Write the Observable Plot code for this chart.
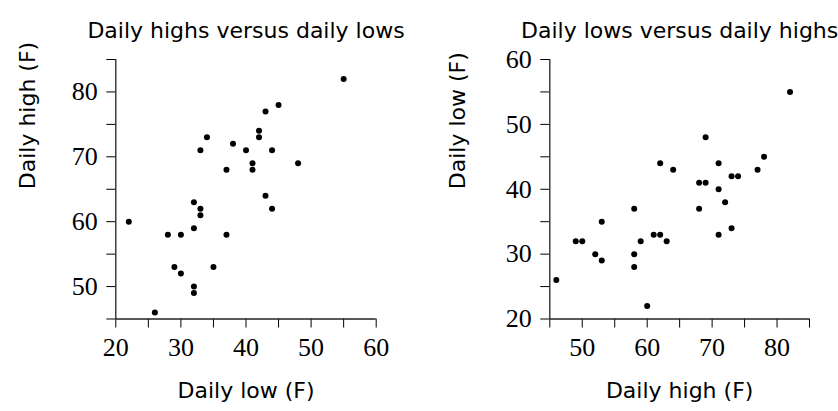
<!DOCTYPE html>
<html>
<head>
<meta charset="utf-8">
<script src="https://cdn.jsdelivr.net/npm/d3@7"></script>
<script src="https://cdn.jsdelivr.net/npm/@observablehq/plot@0.6"></script>
<style>
  html, body { margin: 0; padding: 0; background: #fff; }
  #wrap { display: flex; width: 838px; height: 411px; }
  svg { overflow: visible; }
</style>
</head>
<body>
<div id="wrap"></div>
<script>
// Daily temperatures (F)
const lows  = [55,45,43,42,42,34,33,38,40,44,48,41,41,37,43,44,32,33,33,22,32,28,30,37,29,35,30,32,32,26];
const highs = [82,78,77,74,73,73,71,72,71,71,69,69,68,68,64,62,63,62,61,60,59,58,58,58,53,53,52,50,49,46];

const lowTicks  = [20,25,30,35,40,45,50,55,60];
const highTicks = [45,50,55,60,65,70,75,80,85];
const lowTicksY = [20,25,30,35,40,45,50,55,60];

const titles = ["Daily highs versus daily lows", "Daily lows versus daily highs"];
const xLabels = ["Daily low (F)", "Daily high (F)"];
const yLabels = ["Daily high (F)", "Daily low (F)"];

const data = lows.map((l, i) => ({low: l, high: highs[i]}));

const sans = "DejaVu Sans";
const serif = "Liberation Serif";
const fmt = d => (d % 10 === 0 ? String(d) : "");

function panel({xKey, yKey, xTicks, yTicks, title, xLabel, yLabel, ml, mr, ylabX}) {
  const mt = 59, mb = 92.5, W = 419, H = 411;
  return Plot.plot({
    width: W, height: H,
    marginLeft: ml, marginRight: mr, marginTop: mt, marginBottom: mb,
    style: {fontFamily: serif, fontSize: "26px", color: "#000", background: "#fff"},
    x: {domain: [xTicks[0], xTicks[xTicks.length - 1]], nice: false},
    y: {domain: [yTicks[0], yTicks[yTicks.length - 1]], nice: false},
    marks: [
      Plot.axisX({ticks: xTicks, tickFormat: fmt, tickSize: 9, tickPadding: 10, label: null, stroke: "#000"}),
      Plot.axisY({ticks: yTicks, tickFormat: fmt, tickSize: 9, tickPadding: 9, label: null, stroke: "#000"}),
      Plot.ruleX([xTicks[0]], {stroke: "#222", strokeWidth: 1.3}),
      Plot.ruleY([yTicks[0]], {stroke: "#222", strokeWidth: 1.3}),
      Plot.dot(data, {x: xKey, y: yKey, r: 3, fill: "#000", stroke: null}),
      Plot.text([title], {frameAnchor: "top", dy: -37, fontFamily: sans, fontSize: 22, fill: "#000", text: d => d}),
      Plot.text([xLabel], {frameAnchor: "bottom", dy: 79, fontFamily: sans, fontSize: 22, fill: "#000", text: d => d}),
      Plot.text([yLabel], {frameAnchor: "left", dx: ylabX - ml, rotate: -90, fontFamily: sans, fontSize: 22, fill: "#000", text: d => d})
    ]
  });
}

const wrap = document.getElementById("wrap");
wrap.appendChild(panel({
  xKey: "low", yKey: "high", xTicks: lowTicks, yTicks: highTicks,
  title: titles[0], xLabel: xLabels[0], yLabel: yLabels[0],
  ml: 115.3, mr: 43.3, ylabX: 27
}));
wrap.appendChild(panel({
  xKey: "high", yKey: "low", xTicks: highTicks, yTicks: lowTicksY,
  title: titles[1], xLabel: xLabels[1], yLabel: yLabels[1],
  ml: 130.3, mr: 29, ylabX: 38
}));
</script>
</body>
</html>
